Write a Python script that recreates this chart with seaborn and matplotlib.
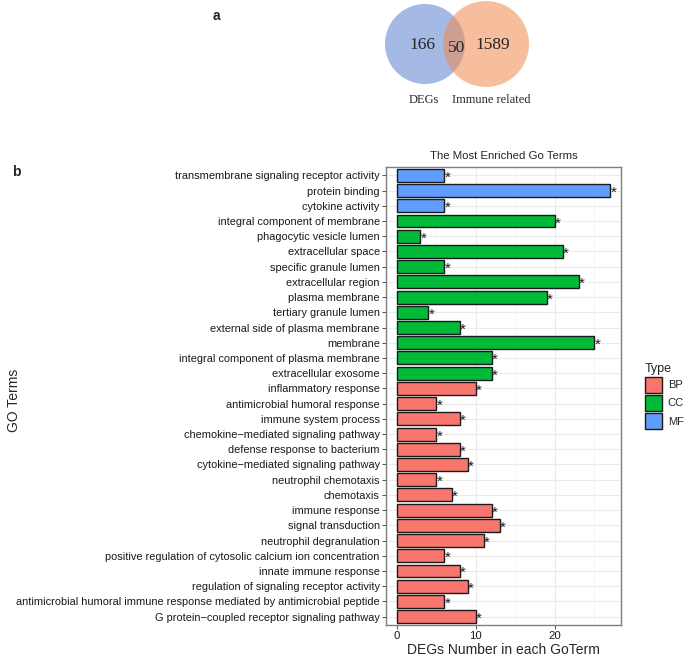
import pandas as pd
import numpy as np
import matplotlib.pyplot as plt
import seaborn as sns
from matplotlib.patches import Circle, Patch

# GO terms, top to bottom as they appear in the chart
terms = [
    "transmembrane signaling receptor activity",
    "protein binding",
    "cytokine activity",
    "integral component of membrane",
    "phagocytic vesicle lumen",
    "extracellular space",
    "specific granule lumen",
    "extracellular region",
    "plasma membrane",
    "tertiary granule lumen",
    "external side of plasma membrane",
    "membrane",
    "integral component of plasma membrane",
    "extracellular exosome",
    "inflammatory response",
    "antimicrobial humoral response",
    "immune system process",
    "chemokine\u2212mediated signaling pathway",
    "defense response to bacterium",
    "cytokine\u2212mediated signaling pathway",
    "neutrophil chemotaxis",
    "chemotaxis",
    "immune response",
    "signal transduction",
    "neutrophil degranulation",
    "positive regulation of cytosolic calcium ion concentration",
    "innate immune response",
    "regulation of signaling receptor activity",
    "antimicrobial humoral immune response mediated by antimicrobial peptide",
    "G protein\u2212coupled receptor signaling pathway",
]
types = ["MF"] * 3 + ["CC"] * 11 + ["BP"] * 16
counts = [6, 27, 6, 20, 3, 21, 6, 23, 19, 4, 8, 25, 12, 12,
          10, 5, 8, 5, 8, 9, 5, 7, 12, 13, 11, 6, 8, 9, 6, 10]

# venn numbers
venn_only_degs = 166
venn_both = 50
venn_only_immune = 1589
venn_names = ["DEGs", "Immune related"]

type_order = ["BP", "CC", "MF"]
palette = {"BP": "#F8766D", "CC": "#00BA38", "MF": "#619CFF"}

df = pd.DataFrame({"Term": terms, "Type": types, "Count": counts})

sns.set_theme(style="white")
plt.rcParams["font.family"] = ["Liberation Sans", "DejaVu Sans"]

fig = plt.figure(figsize=(6.85, 6.6), dpi=100)

# ---- panel a: venn, axes in pixel coords ----
va = fig.add_axes([330 / 685, 1 - 120 / 660, 230 / 685, 120 / 660])
va.set_xlim(330, 560)
va.set_ylim(120, 0)
va.axis("off")
va.add_patch(Circle((425, 44), 40, color="#5A82D0", alpha=0.55, lw=0))
va.add_patch(Circle((486, 44), 43, color="#F08A4B", alpha=0.55, lw=0))
serif = ["Liberation Serif", "DejaVu Serif"]
va.text(422, 45, str(venn_only_degs), ha="center", va="center", fontsize=12.5, family=serif)
va.text(457, 48, str(venn_both), ha="center", va="center", fontsize=12.5, family=serif)
va.text(493, 45, str(venn_only_immune), ha="center", va="center", fontsize=12.5, family=serif)
va.text(424, 100, venn_names[0], ha="center", va="center", fontsize=9, family=serif)
va.text(491, 100, venn_names[1], ha="center", va="center", fontsize=9, family=serif)
fig.text(213 / 685, 1 - 16 / 660, "a", fontsize=10, fontweight="bold", va="center")

# ---- panel b: bar chart ----
ax = fig.add_axes([386 / 685, 1 - 625 / 660, 235 / 685, 458 / 660])
sns.barplot(data=df, y="Term", x="Count", hue="Type", hue_order=type_order,
            palette=palette, dodge=False, width=0.85, edgecolor="#1A1A1A",
            linewidth=1.0, saturation=1, orient="h", legend=False, ax=ax)

for i, v in enumerate(counts):
    ax.text(v + 0.02, i + 0.15, "*", ha="left", va="center", fontsize=11, color="#1A1A1A")

ax.set_xlim(-1.35, 28.35)
ax.set_ylim(len(terms) - 0.45, -0.55)
ax.set_xticks([0, 10, 20])
ax.set_xticks([5, 15, 25], minor=True)
ax.grid(True, which="major", color="#EBEBEB", lw=0.8)
ax.grid(True, which="minor", axis="x", color="#F3F3F3", lw=0.5)
ax.set_axisbelow(True)
for s in ax.spines.values():
    s.set_color("#7F7F7F")
    s.set_linewidth(1.0)
ax.tick_params(axis="both", which="major", length=3, width=0.6, color="#333333",
               labelsize=7.9, labelcolor="#1A1A1A", pad=1.5, bottom=True, left=True)
ax.tick_params(axis="x", which="minor", length=0)
ax.tick_params(axis="x", labelsize=8.2)
ax.set_title("The Most Enriched Go Terms", fontsize=8.2, pad=6)
ax.set_xlabel("DEGs Number in each GoTerm", fontsize=10, labelpad=1)
ax.set_ylabel("")
fig.text(7 / 685, 1 - 400 / 660, "GO Terms", rotation=90, fontsize=10,
         ha="left", va="center")
fig.text(12 / 685, 1 - 172 / 660, "b", fontsize=10, fontweight="bold", va="center")

handles = [Patch(facecolor=palette[t], edgecolor="#1A1A1A", lw=1.0) for t in type_order]
leg = fig.legend(handles, type_order, title="Type", loc="upper left",
                 bbox_to_anchor=(636 / 685, 1 - 354 / 660), frameon=False,
                 fontsize=8, title_fontsize=9, handlelength=1.55, handleheight=1.9,
                 handletextpad=0.5, labelspacing=0.15, alignment="left", borderpad=0.3)

fig.savefig("out.png", dpi=100)
